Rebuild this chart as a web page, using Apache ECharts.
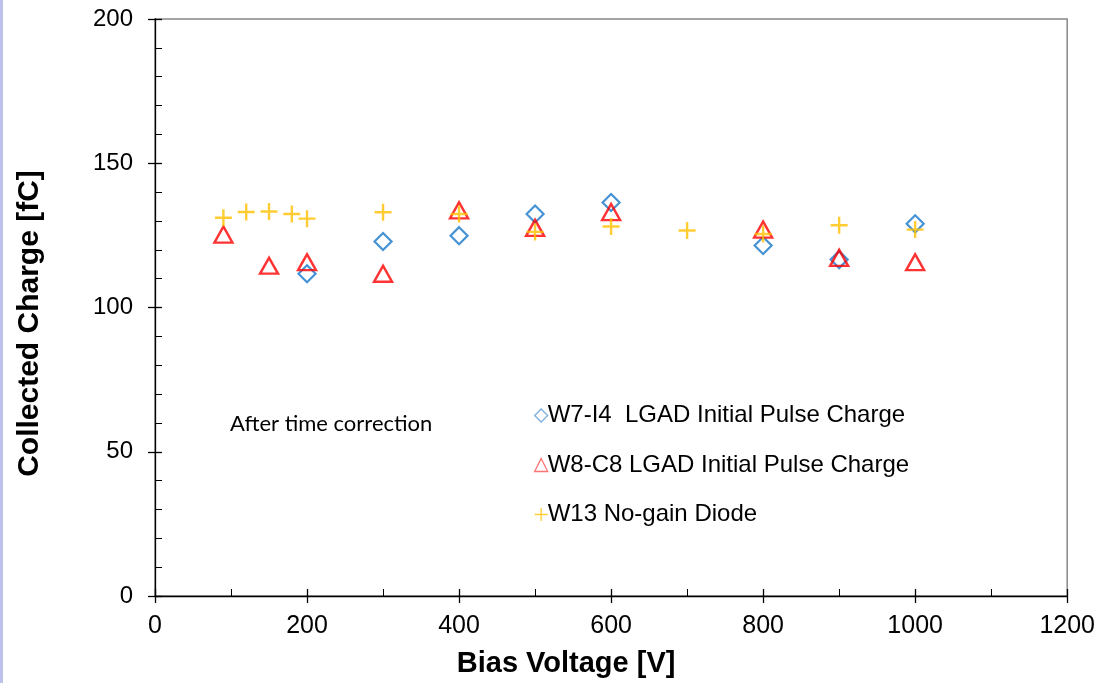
<!DOCTYPE html>
<html>
<head>
<meta charset="utf-8">
<script src="https://cdn.jsdelivr.net/npm/echarts@6/dist/echarts.min.js"></script>
<style>
html,body{margin:0;padding:0;background:#fff;}
#c{width:1098px;height:683px;}
</style>
</head>
<body>
<div id="c"></div>
<script>
// Data
var w7Voltage = [200, 300, 400, 500, 600, 800, 900, 1000];
var w7Charge  = [111.7, 122.9, 124.9, 132.4, 136.4, 121.5, 116.6, 129.0];

var w8Voltage = [90, 150, 200, 300, 400, 500, 600, 800, 900, 1000];
var w8Charge  = [125.3, 114.5, 115.7, 111.7, 133.7, 127.6, 133.1, 127.0, 117.2, 115.7];

var w13Voltage = [90, 120, 150, 180, 200, 300, 400, 500, 600, 700, 800, 900, 1000];
var w13Charge  = [131.1, 133.1, 133.3, 132.4, 130.8, 133.0, 132.4, 126.2, 128.1, 126.7, 125.5, 128.5, 127.0];

var seriesNames = ['W7-I4  LGAD Initial Pulse Charge', 'W8-C8 LGAD Initial Pulse Charge', 'W13 No-gain Diode'];
var xTitle = 'Bias Voltage [V]';
var yTitle = 'Collected Charge [fC]';
var note = 'After time correction';

function pairs(xs, ys){ return xs.map(function(x,i){ return [x, ys[i]]; }); }

var plusPath = 'path://M0,5L10,5M5,0L5,10';
var blue = '#1777C9', red = '#FF0000', yellow = '#FFC000';

var chart = echarts.init(document.getElementById('c'));
var font = 'Liberation Sans, Arial, sans-serif';

var baseX = {type:'value', min:0, max:1200, interval:200, gridIndex:0};
var baseY = {type:'value', min:0, max:200, interval:50, gridIndex:0};

chart.setOption({
  animation:false,
  backgroundColor:'#fff',
  grid:{left:155, right:29, top:19, bottom:84, show:true, borderColor:'#888', borderWidth:1.5, backgroundColor:'transparent'},
  xAxis:[
    Object.assign({}, baseX, {
      name:xTitle, nameLocation:'middle', nameGap:53,
      nameTextStyle:{fontFamily:font, fontSize:29, fontWeight:'bold', color:'#000', padding:[0,90,0,0]},
      axisLine:{show:true, onZero:false, lineStyle:{color:'#000', width:1.3}},
      axisTick:{show:true, inside:false, length:7, lineStyle:{color:'#000', width:1.3}},
      axisLabel:{fontFamily:font, fontSize:25, color:'#000', margin:18, formatter:function(v){return String(v);}},
      splitLine:{show:false}
    }),
    Object.assign({}, baseX, {
      position:'bottom',
      axisLine:{show:false, onZero:false},
      axisTick:{show:true, inside:true, length:7, lineStyle:{color:'#000', width:1.3}},
      minorTick:{show:true, splitNumber:2, length:7, lineStyle:{color:'#000', width:1}},
      axisLabel:{show:false}, splitLine:{show:false}
    })
  ],
  yAxis:[
    Object.assign({}, baseY, {
      name:yTitle, nameLocation:'middle', nameGap:110,
      nameTextStyle:{fontFamily:font, fontSize:30, fontWeight:'bold', color:'#000', padding:[0,32,0,0]},
      axisLine:{show:true, onZero:false, lineStyle:{color:'#000', width:1.3}},
      axisTick:{show:true, inside:false, length:7, lineStyle:{color:'#000', width:1.3}},
      axisLabel:{fontFamily:font, fontSize:24, color:'#000', margin:22},
      splitLine:{show:false}
    }),
    Object.assign({}, baseY, {
      position:'left',
      axisLine:{show:false, onZero:false},
      axisTick:{show:true, inside:true, length:7, lineStyle:{color:'#000', width:1.3}},
      minorTick:{show:true, splitNumber:5, length:7, lineStyle:{color:'#000', width:1}},
      axisLabel:{show:false}, splitLine:{show:false}
    })
  ],
  legend:{
    orient:'vertical', left:529, top:397, itemWidth:13, itemHeight:13, itemGap:22.5,
    textStyle:{fontFamily:font, fontSize:24, color:'#000', lineHeight:27, padding:[0,0,0,-5]},
    data:[
      {name:seriesNames[0], icon:'diamond', itemStyle:{color:'transparent', borderColor:'#5B9BD5', borderWidth:1.3}},
      {name:seriesNames[1], icon:'triangle', itemStyle:{color:'transparent', borderColor:'#FF5050', borderWidth:1.3}},
      {name:seriesNames[2], icon:plusPath, itemStyle:{color:'transparent', borderColor:yellow, borderWidth:1.3}}
    ]
  },
  graphic:[
    {type:'rect', left:0, top:0, shape:{width:3, height:683}, style:{fill:'#C0C0EC'}},
    {type:'text', left:230, top:413, style:{text:note, font:'22px Lato, "Open Sans", sans-serif', fill:'#000'}}
  ],
  series:[
    {name:seriesNames[0], type:'scatter', data:pairs(w7Voltage, w7Charge),
     symbol:'diamond', symbolSize:[17,17],
     itemStyle:{color:'transparent', borderColor:blue, borderWidth:2.2}},
    {name:seriesNames[1], type:'scatter', data:pairs(w8Voltage, w8Charge),
     symbol:'triangle', symbolSize:[18,16],
     itemStyle:{color:'transparent', borderColor:red, borderWidth:2.4}},
    {name:seriesNames[2], type:'scatter', data:pairs(w13Voltage, w13Charge),
     symbol:plusPath, symbolSize:17,
     itemStyle:{color:'transparent', borderColor:yellow, borderWidth:2.4}}
  ]
});
</script>
</body>
</html>
